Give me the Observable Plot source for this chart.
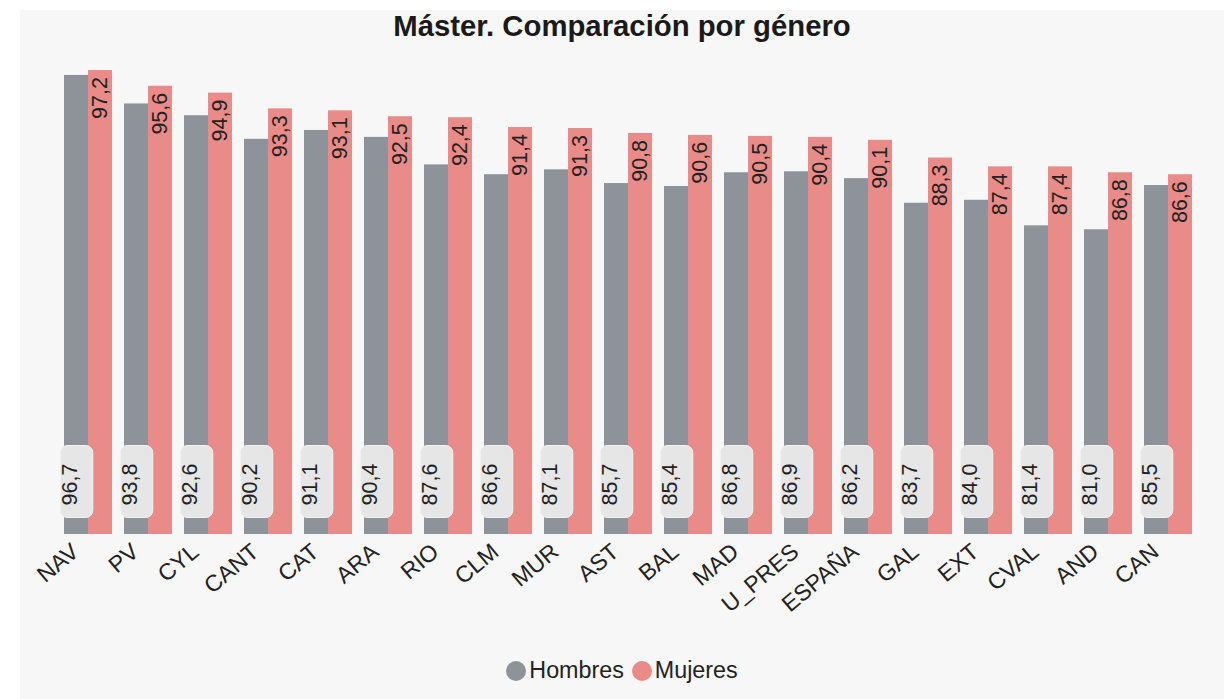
<!DOCTYPE html>
<html><head><meta charset="utf-8">
<script src="https://cdn.jsdelivr.net/npm/d3@7"></script>
<script src="https://cdn.jsdelivr.net/npm/@observablehq/plot@0.6"></script>
<style>
html,body{margin:0;padding:0;background:#fff;}
#wrap{position:absolute;left:20px;top:10px;width:1204px;height:689px;background:#f7f7f7;font-family:"Liberation Sans",Arial,sans-serif;}
#title{position:absolute;left:0;top:0;width:100%;text-align:center;font-size:29.3px;line-height:32px;font-weight:bold;color:#1a1a1a;}
#chart{position:absolute;left:0;top:0;}
#legend{position:absolute;left:0;width:100%;top:647px;display:flex;justify-content:center;align-items:center;font-size:23.3px;color:#222;}
.item{display:flex;align-items:center;margin:0 4px;}
.sw{width:20px;height:20px;border-radius:50%;margin-right:3px;}
</style></head>
<body>
<div id="wrap"><div id="chart"></div><div id="title">Máster. Comparación por género</div><div id="legend"></div></div>
<script>
const regions = ["NAV","PV","CYL","CANT","CAT","ARA","RIO","CLM","MUR","AST","BAL","MAD","U_PRES","ESPAÑA","GAL","EXT","CVAL","AND","CAN"];
const hombres = [96.7,93.8,92.6,90.2,91.1,90.4,87.6,86.6,87.1,85.7,85.4,86.8,86.9,86.2,83.7,84.0,81.4,81.0,85.5];
const mujeres = [97.2,95.6,94.9,93.3,93.1,92.5,92.4,91.4,91.3,90.8,90.6,90.5,90.4,90.1,88.3,87.4,87.4,86.8,86.6];
const series = ["Hombres","Mujeres"];
const colors = ["#8e9299","#e88b89"];

const data = [];
regions.forEach((r,i)=>{
  data.push({region:r, genero:series[0], value:hombres[i]});
  data.push({region:r, genero:series[1], value:mujeres[i]});
});
const fmt = v => v.toFixed(1).replace(".", ",");
const H = data.filter(d=>d.genero==="Hombres");
const M = data.filter(d=>d.genero==="Mujeres");

const roundBox = {
  draw(ctx){
    const w=32.5, h=72, r=7;
    const x0=-w/2, x1=w/2, y0=-h/2, y1=h/2;
    ctx.moveTo(x0+r,y0);
    ctx.lineTo(x1-r,y0); ctx.arcTo(x1,y0,x1,y0+r,r);
    ctx.lineTo(x1,y1-r); ctx.arcTo(x1,y1,x1-r,y1,r);
    ctx.lineTo(x0+r,y1); ctx.arcTo(x0,y1,x0,y1-r,r);
    ctx.lineTo(x0,y0+r); ctx.arcTo(x0,y0,x0+r,y0,r);
    ctx.closePath();
  }
};

const chart = Plot.plot({
  width:1204, height:610,
  marginLeft:38, marginRight:26, marginTop:32.5, marginBottom:86,
  style:{background:"transparent", fontFamily:"'Liberation Sans',Arial,sans-serif", color:"#222"},
  fx:{domain:regions, paddingInner:0.2, paddingOuter:0.1, label:null},
  x:{domain:series, axis:null, padding:0},
  y:{domain:[50,100], axis:null},
  color:{domain:series, range:colors},
  marks:[
    Plot.barY(data,{fx:"region", x:"genero", y1:50, y2:"value", fill:"genero"}),
    Plot.dot(H,{fx:"region", x:"genero", frameAnchor:"bottom", dy:-53, r:5, symbol:roundBox, fill:"#e6e6e6", stroke:"#f3f3f3", strokeWidth:1}),
    Plot.text(H,{fx:"region", x:"genero", frameAnchor:"bottom", dy:-50, text:d=>fmt(d.value), rotate:-90, textAnchor:"middle", fontSize:21.5, fill:"#222"}),
    Plot.text(M,{fx:"region", x:"genero", y:"value", dy:6.5, text:d=>fmt(d.value), rotate:-90, textAnchor:"end", fontSize:21.5, fill:"#222"}),
    Plot.axisFx({anchor:"bottom", tickSize:0, tickRotate:-40, fontSize:23, tickPadding:14, dx:-13, label:null, fill:"#222"})
  ]
});
document.getElementById("chart").appendChild(chart);

const lg = document.getElementById("legend");
series.forEach((s,i)=>{
  const it=document.createElement("div"); it.className="item";
  const sw=document.createElement("span"); sw.className="sw"; sw.style.background=colors[i];
  const t=document.createElement("span"); t.textContent=s;
  it.appendChild(sw); it.appendChild(t); lg.appendChild(it);
});
</script>
</body></html>
